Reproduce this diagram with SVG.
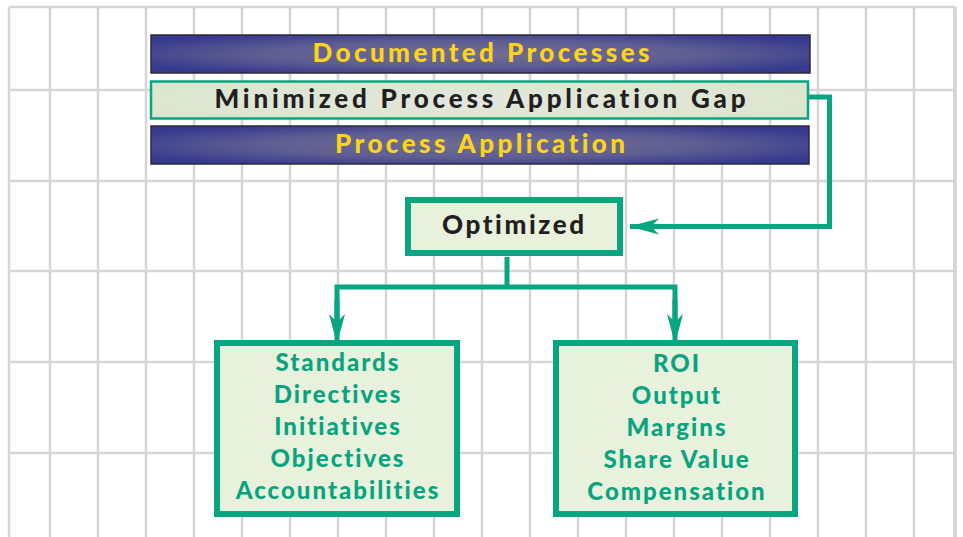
<svg xmlns="http://www.w3.org/2000/svg" width="963" height="537" viewBox="0 0 963 537">
  <defs>
    <radialGradient id="barBlue" cx="0.5" cy="0.5" r="0.6">
      <stop offset="0" stop-color="#6f6d93"/>
      <stop offset="0.55" stop-color="#5f5e92"/>
      <stop offset="1" stop-color="#36398e"/>
    </radialGradient>
    <radialGradient id="barPale" cx="0.5" cy="0.5" r="0.6">
      <stop offset="0" stop-color="#e4e6df"/>
      <stop offset="1" stop-color="#dbe6cc"/>
    </radialGradient>
    <marker id="arrow" viewBox="0 0 30 16" refX="29" refY="8" markerWidth="30" markerHeight="16" markerUnits="userSpaceOnUse" orient="auto">
      <path d="M0,0 L30,8 L0,16 L8,8 Z" fill="#08a581"/>
    </marker>
  </defs>
  <style>
    .grid line { stroke: #d6d6d6; stroke-width: 2.5; }
    .bar { fill: url(#barBlue); stroke: #2b2b3a; stroke-width: 1.5; }
    .pale { fill: url(#barPale); stroke: #08a581; stroke-width: 2.5; }
    .box { fill: #e8f1dc; stroke: #08a581; stroke-width: 6; }
    .conn { fill: none; stroke: #08a581; stroke-width: 5; }
    text { font-family: "Lato", "Liberation Sans", sans-serif; font-weight: 900; text-anchor: middle; font-variant-ligatures: none; font-feature-settings: "liga" 0, "clig" 0; }
    .title { font-size: 26px; fill: #fdd31c; }
    .dark { font-size: 26px; fill: #231f20; }
    .list { font-size: 24px; fill: #0aa37f; letter-spacing: 2px; }
  </style>

  <!-- background grid -->
  <rect width="963" height="537" fill="#ffffff"/>
  <g class="grid">
    <line x1="9" y1="7" x2="955" y2="7"/>
    <line x1="9" y1="90" x2="955" y2="90"/>
    <line x1="9" y1="181" x2="955" y2="181"/>
    <line x1="9" y1="271" x2="955" y2="271"/>
    <line x1="9" y1="362" x2="955" y2="362"/>
    <line x1="9" y1="453" x2="955" y2="453"/>
    <line x1="9" y1="7" x2="9" y2="537"/>
    <line x1="50" y1="7" x2="50" y2="537"/>
    <line x1="98" y1="7" x2="98" y2="537"/>
    <line x1="146" y1="7" x2="146" y2="537"/>
    <line x1="194" y1="7" x2="194" y2="537"/>
    <line x1="242" y1="7" x2="242" y2="537"/>
    <line x1="290" y1="7" x2="290" y2="537"/>
    <line x1="338" y1="7" x2="338" y2="537"/>
    <line x1="386" y1="7" x2="386" y2="537"/>
    <line x1="434" y1="7" x2="434" y2="537"/>
    <line x1="482" y1="7" x2="482" y2="537"/>
    <line x1="530" y1="7" x2="530" y2="537"/>
    <line x1="578" y1="7" x2="578" y2="537"/>
    <line x1="626" y1="7" x2="626" y2="537"/>
    <line x1="674" y1="7" x2="674" y2="537"/>
    <line x1="722" y1="7" x2="722" y2="537"/>
    <line x1="770" y1="7" x2="770" y2="537"/>
    <line x1="818" y1="7" x2="818" y2="537"/>
    <line x1="866" y1="7" x2="866" y2="537"/>
    <line x1="914" y1="7" x2="914" y2="537"/>
    <line x1="955" y1="7" x2="955" y2="537" style="stroke-width:4"/>
  </g>

  <!-- connectors -->
  <g id="connectors">
    <path class="conn" d="M808,97 H829.5 V226.5 H630" marker-end="url(#arrow)"/>
    <path class="conn" d="M507,257 V287"/>
    <path class="conn" d="M337,320 V287 H675 V320" />
    <path class="conn" d="M337,300 V343" marker-end="url(#arrow)"/>
    <path class="conn" d="M675,300 V343" marker-end="url(#arrow)"/>
  </g>

  <g id="documented-processes">
    <rect class="bar" x="151" y="35" width="659" height="38"/>
    <text class="title" x="481" y="62" textLength="337" lengthAdjust="spacing">Documented Processes</text>
  </g>

  <g id="minimized-gap">
    <rect class="pale" x="151" y="81.5" width="657" height="37"/>
    <text class="dark" x="480" y="108" textLength="531" lengthAdjust="spacing">Minimized Process Application Gap</text>
  </g>

  <g id="process-application">
    <rect class="bar" x="151" y="126" width="658" height="38"/>
    <text class="title" x="480" y="153" textLength="290" lengthAdjust="spacing">Process Application</text>
  </g>

  <g id="optimized">
    <rect class="box" x="408" y="200" width="212" height="53"/>
    <text class="dark" x="513" y="234" textLength="142" lengthAdjust="spacing">Optimized</text>
  </g>

  <g id="internal-measures">
    <rect class="box" x="217" y="343" width="240" height="171"/>
    <text class="list" x="338" y="371">Standards</text>
    <text class="list" x="338" y="403">Directives</text>
    <text class="list" x="338" y="435">Initiatives</text>
    <text class="list" x="338" y="467">Objectives</text>
    <text class="list" x="338" y="499">Accountabilities</text>
  </g>

  <g id="financial-measures">
    <rect class="box" x="556" y="343" width="239" height="171"/>
    <text class="list" x="677" y="372">ROI</text>
    <text class="list" x="677" y="404">Output</text>
    <text class="list" x="677" y="436">Margins</text>
    <text class="list" x="677" y="468">Share Value</text>
    <text class="list" x="677" y="500">Compensation</text>
  </g>
</svg>
